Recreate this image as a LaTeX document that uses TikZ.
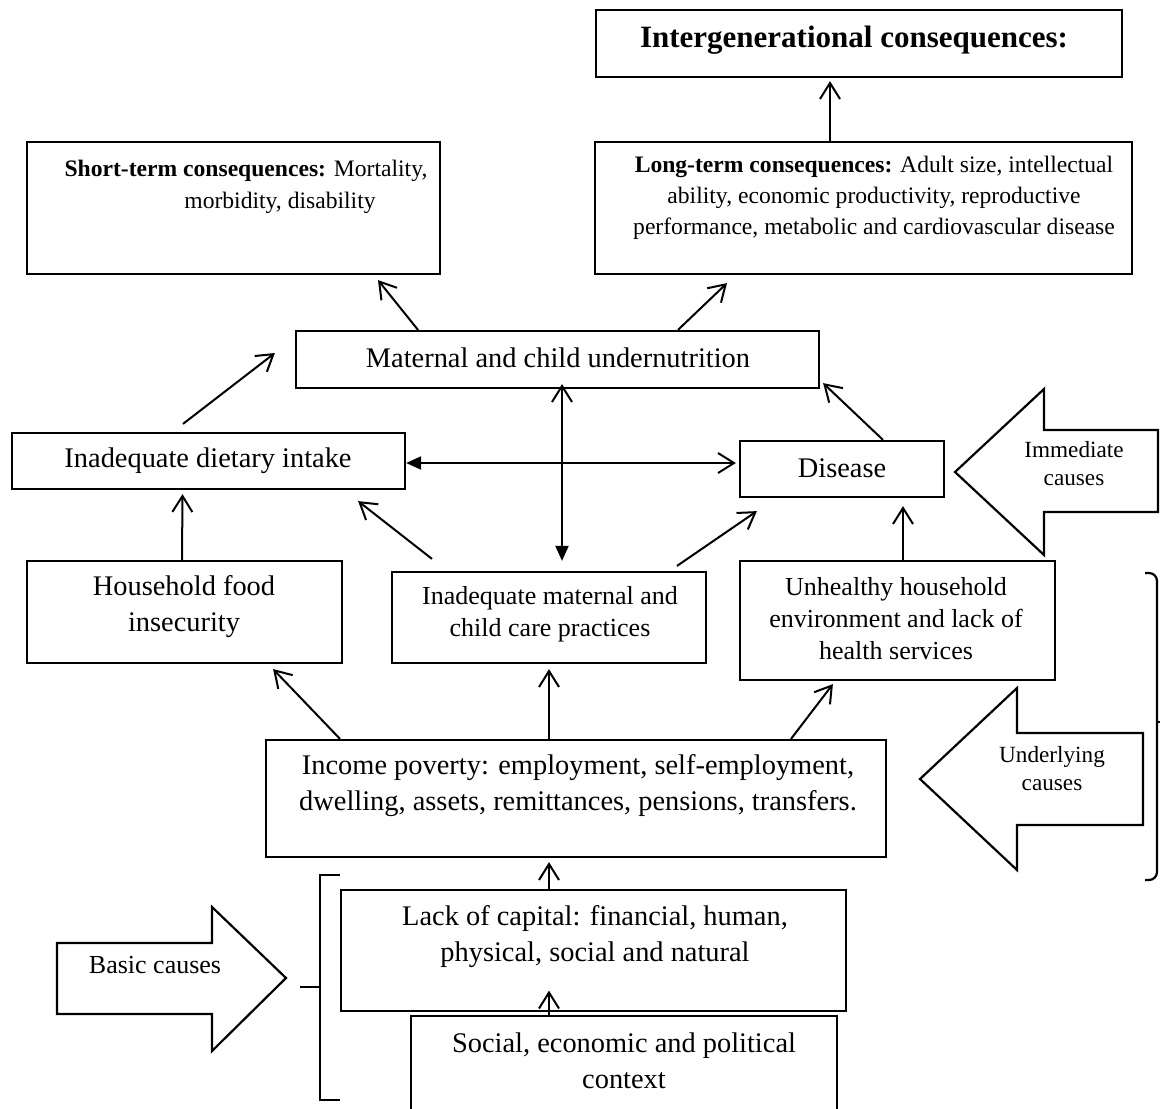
\documentclass[tikz,border=0pt]{standalone}
\usepackage{fontspec}
\setmainfont{Liberation Serif}
\usetikzlibrary{arrows.meta,fit}

\begin{document}
\begin{tikzpicture}[x=0.5pt,y=-0.5pt,
  box/.style={draw,line width=1.1pt,inner sep=0pt},
  thinbox/.style={draw,line width=0.6pt,inner sep=0pt},
  txt/.style={align=center,inner sep=0pt},
  fmain/.style={font=\fontsize{14.2}{18}\selectfont},
  fmid/.style={font=\fontsize{13}{16}\selectfont},
  fsmall/.style={font=\fontsize{11.8}{15.5}\selectfont},
  flab/.style={font=\fontsize{11.6}{14}\selectfont},
  fbig/.style={font=\bfseries\fontsize{15.5}{18}\selectfont},
  arr/.style={line width=1pt,-{Straight Barb[length=8pt,width=10pt]}},
  dbl/.style={line width=1pt,{Straight Barb[length=8pt,width=10pt]}-{Triangle[length=7.5pt,width=6.5pt]}},
  dblh/.style={line width=1pt,{Triangle[length=7.5pt,width=6.5pt]}-{Straight Barb[length=8pt,width=10pt]}},
  blockarrow/.style={draw,line width=1.1pt,line join=miter},
  bracket/.style={draw,line width=1.1pt}
]
\useasboundingbox (0,0) rectangle (1160,1108);
\clip (0,0) rectangle (1160,1108);

% ---------- boxes ----------
\node[box,fit={(596,10)(1122,77)}] (inter) {};
\node[box,fit={(27,142)(440,274)}] (short) {};
\node[box,fit={(595,142)(1132,274)}] (long) {};
\node[box,fit={(296,331)(819,388)}] (matern) {};
\node[box,fit={(12,433)(405,489)}] (diet) {};
\node[box,fit={(740,441)(944,497)}] (dis) {};
\node[box,fit={(27,561)(342,663)}] (food) {};
\node[box,fit={(392,572)(706,663)}] (care) {};
\node[box,fit={(740,561)(1055,680)}] (env) {};
\node[box,fit={(266,740)(886,857)}] (income) {};
\node[thinbox,fit={(341,890)(846,1011)}] (capital) {};
\node[box,fit={(411,1016)(837,1125)}] (context) {};

% ---------- box texts ----------
\node[txt,fbig] (intert) at (854,40) {Intergenerational consequences:};
\node[txt,fsmall] (shorta) at (246,171) {\textbf{Short-term consequences:} Mortality,};
\node[txt,fsmall] (shortb) at (280,203) {morbidity, disability};
\node[txt,fsmall] (longt) at (874,198) {\textbf{Long-term consequences:} Adult size, intellectual\\
  ability, economic productivity, reproductive\\
  performance, metabolic and cardiovascular disease};
\node[txt,fmain] (matert) at (558,358) {Maternal and child undernutrition};
\node[txt,fmain] (dietT) at (208,461) {Inadequate dietary intake};
\node[txt,fmain] (dist) at (842,468) {Disease};
\node[txt,fmain] (foodt) at (184,607) {Household food\\ insecurity};
\node[txt,fmid] (caret) at (550,614) {Inadequate maternal and\\ child care practices};
\node[txt,fmid] (envt) at (896,619) {Unhealthy household\\ environment and lack of\\ health services};
\node[txt,fmain] (inct) at (578,786) {Income poverty: employment, self-employment,\\ dwelling, assets, remittances, pensions, transfers.};
\node[txt,fmain] (capt) at (595,937) {Lack of capital: financial, human,\\ physical, social and natural};
\node[txt,fmain] (ctxt) at (624,1061) {Social, economic and political\\ context};

% ---------- connectors ----------
\draw[arr] ([shift={(-33.5,0)}]long.north) -- ([shift={(-29,3)}]inter.south);
\draw[arr] ([shift={(-139.5,0)}]matern.north) -- ([shift={(144.5,5)}]short.south);
\draw[arr] ([shift={(120.5,0)}]matern.north) -- ([shift={(-136.5,8)}]long.south);
\draw[arr] ([shift={(-25.5,-8)}]diet.north) -- ([shift={(-20,-6.5)}]matern.west);
\draw[arr] ([shift={(41,0)}]dis.north) -- ([shift={(3,-6)}]matern.south east);
\draw[dblh] ([shift={(0,2)}]diet.east) -- ([shift={(-3,2)}]diet.east -| dis.west);
\draw[dbl] ([shift={(4.5,-5)}]matern.south) -- ([shift={(13,-10)}]care.north);
\draw[arr] ([shift={(-2.5,0)}]food.north) -- ([shift={(-26,4)}]diet.south);
\draw[arr] ([shift={(-117,-12)}]care.north) -- ([shift={(-48,11)}]diet.south east);
\draw[arr] ([shift={(128,-5)}]care.north) -- ([shift={(18,13)}]dis.south west);
\draw[arr] ([shift={(5.5,0)}]env.north) -- ([shift={(61,8)}]dis.south);
\draw[arr] ([shift={(-236,0)}]income.north) -- ([shift={(-70,5)}]food.south east);
\draw[arr] ([shift={(-27,0)}]income.north) -- ([shift={(0,5)}]care.south);
\draw[arr] ([shift={(215,0)}]income.north) -- ([shift={(94,3)}]env.south west);
\draw[arr] ([shift={(-44.5,0)}]capital.north) -- ([shift={(-27,4)}]income.south);
\draw[arr] ([shift={(-75,0)}]context.north) -- ([shift={(-44.5,-21)}]capital.south);

% ---------- block arrows for the levels of causes ----------
\draw[blockarrow] (57,943) -- (212,943) -- (212,907) -- (286,978) -- (212,1051) -- (212,1014) -- (57,1014) -- cycle;
\node[txt,fmid] (basict) at (155,965) {Basic causes};

\draw[blockarrow] (1158,430) -- (1044,430) -- (1044,389) -- (955,472) -- (1044,555) -- (1044,512) -- (1158,512) -- cycle;
\node[txt,flab] (immt) at (1074,464) {Immediate\\ causes};

\draw[blockarrow] (1143,733) -- (1017,733) -- (1017,688) -- (920,779) -- (1017,870) -- (1017,825) -- (1143,825) -- cycle;
\node[txt,flab] (undt) at (1052,769) {Underlying\\ causes};

% ---------- brackets ----------
\draw[bracket,rounded corners=4] (1145,573) -- (1157,573) -- (1157,880) -- (1145,880);
\draw[bracket] (1157,722) -- (1162,722);
\draw[bracket] (340,875) -- (320,875) -- (320,1100) -- (340,1100);
\draw[bracket] (300,987) -- (320,987);
\end{tikzpicture}
\end{document}
